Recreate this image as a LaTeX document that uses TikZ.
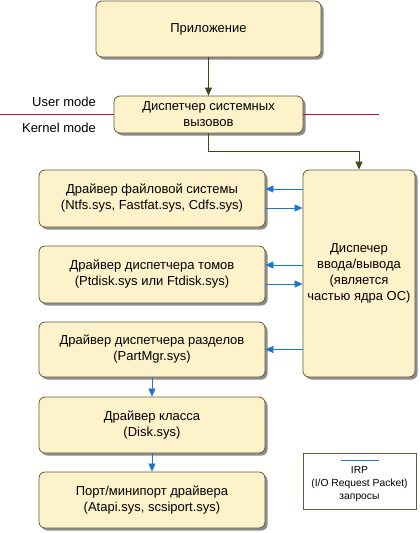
\documentclass[tikz,border=0pt]{standalone}
\usepackage{fontspec}
\setmainfont{Liberation Sans}
\usetikzlibrary{arrows.meta,shadows}

\definecolor{boxfill}{HTML}{FEF2CB}
\definecolor{boxline}{HTML}{5E5E3A}
\definecolor{ctrlline}{HTML}{3D4A1C}
\definecolor{irpblue}{HTML}{1C75CF}
\definecolor{modered}{HTML}{C8101E}

\begin{document}
\begin{tikzpicture}[x=1pt, y=-1pt,
    box/.style={rectangle, draw=boxline, fill=boxfill, thick, rounded corners=6pt,
        minimum width=226pt, minimum height=56pt, align=center, inner sep=2pt,
        font=\fontsize{13}{16}\selectfont,
        drop shadow={shadow xshift=2.5pt, shadow yshift=-2.5pt, opacity=1, fill=black!45}},
    arrow/.style={-{Triangle[length=8pt,width=7pt]}, ctrlline, thick},
    irp/.style={-{Triangle[length=8pt,width=7pt]}, irpblue, semithick},
    modeline/.style={modered, line width=1.5pt},
    modelabel/.style={anchor=east, font=\fontsize{13}{15}\selectfont, inner sep=0pt}
]
\useasboundingbox (0,0) rectangle (420,533);

\node[box, minimum width=225pt] (app) at (208.5,29) {Приложение};
\node[box, minimum width=189pt, minimum height=37pt] (sys) at (208.5,114.5) {Диспетчер системных\\вызовов};
\node[box, minimum width=112pt, minimum height=207pt] (io) at (359,273.5) {Диспечер\\ввода/вывода\\(является\\частью ядра ОС)};
\node[box, minimum height=57pt] (fs) at (152,198.5) {Драйвер файловой системы\\(Ntfs.sys, Fastfat.sys, Cdfs.sys)};
\node[box, minimum height=57pt] (vol) at (152,274.5) {Драйвер диспетчера томов\\(Ptdisk.sys или Ftdisk.sys)};
\node[box, minimum height=55pt] (part) at (152,349.5) {Драйвер диспетчера разделов\\(PartMgr.sys)};
\node[box] (class) at (152,425) {Драйвер класса\\(Disk.sys)};
\node[box] (port) at (152,500) {Порт/минипорт драйвера\\(Atapi.sys, scsiport.sys)};

% user / kernel border
\coordinate (lend) at (0,114.5);
\coordinate (rend) at (379,114.5);
\draw[modeline] (lend) -- (sys.west);
\draw[modeline] (sys.east) -- (rend);
\node[modelabel] (user) at (96,102) {User mode};
\node[modelabel] (kernel) at (96,128) {Kernel mode};

\draw[arrow] (app) -- (sys);
\draw[arrow] (sys.south) -- ++(0,18) -| (io.north);

\draw[irp] ([yshift=9.5pt]io.west |- fs.east) -- ([yshift=9.5pt]fs.east);
\draw[irp] ([yshift=-9.5pt]fs.east) -- ([yshift=-9.5pt]io.west |- fs.east);
\draw[irp] ([yshift=9.5pt]io.west |- vol.east) -- ([yshift=9.5pt]vol.east);
\draw[irp] ([yshift=-9.5pt]vol.east) -- ([yshift=-9.5pt]io.west |- vol.east);
\draw[irp] (io.west |- part.east) -- (part.east);
\draw[irp] (part) -- (class);
\draw[irp] (class) -- (port);

% legend
\node[draw=boxline, fill=white, minimum width=113pt, minimum height=56pt, align=center,
    font=\fontsize{10.3}{13}\selectfont] (legend) at (359.5,481)
    {\textcolor{irpblue}{\rule{38pt}{1pt}}\\IRP\\(I/O Request Packet)\\запросы};
\end{tikzpicture}
\end{document}
